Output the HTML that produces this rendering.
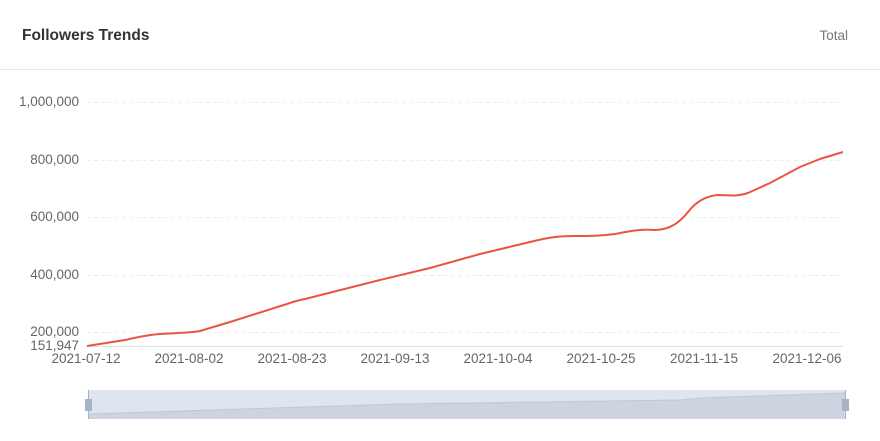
<!DOCTYPE html>
<html><head><meta charset="utf-8"><style>
body{margin:0;width:880px;height:441px;background:#fff;font-family:"Liberation Sans",sans-serif;overflow:hidden}
</style></head><body>
<svg width="880" height="441" xmlns="http://www.w3.org/2000/svg" style="position:absolute;left:0;top:0">
<text x="22" y="40" font-size="15.5" font-weight="bold" fill="#333">Followers Trends</text>
<text x="848" y="40" font-size="13.5" fill="#777" text-anchor="end">Total</text>
<line x1="0" y1="69.5" x2="880" y2="69.5" stroke="#e8e8e8"/>
<g stroke="#eee" stroke-dasharray="4,3">
<line x1="87" y1="102.5" x2="843" y2="102.5"/>
<line x1="87" y1="160.5" x2="843" y2="160.5"/>
<line x1="87" y1="217.5" x2="843" y2="217.5"/>
<line x1="87" y1="275.5" x2="843" y2="275.5"/>
<line x1="87" y1="332.5" x2="843" y2="332.5"/>
</g>
<line x1="87" y1="346.5" x2="843" y2="346.5" stroke="#e0e0e0"/>
<g font-size="13.5" fill="#666" text-anchor="end">
<text x="79" y="106">1,000,000</text>
<text x="79" y="164">800,000</text>
<text x="79" y="221">600,000</text>
<text x="79" y="279">400,000</text>
<text x="79" y="336">200,000</text>
<text x="79" y="350">151,947</text>
</g>
<g font-size="13.5" fill="#666" text-anchor="middle">
<text x="86" y="363">2021-07-12</text>
<text x="189" y="363">2021-08-02</text>
<text x="292" y="363">2021-08-23</text>
<text x="395" y="363">2021-09-13</text>
<text x="498" y="363">2021-10-04</text>
<text x="601" y="363">2021-10-25</text>
<text x="704" y="363">2021-11-15</text>
<text x="807" y="363">2021-12-06</text>
</g>
<path d="M87,346 L125,340 C135,338 145,335 160,334 C175,333 190,333 200,331 C210,328 220,325 230,322 L290,303 C295,301 300,300 305,299 L380,280 L430,268 L480,254 L530,242 C550,237 560,236 575,236 C590,236 600,236 615,234 C630,231 640,229 655,230 C670,230 680,222 688,212 C695,203 705,196 718,195 C730,195 735,197 748,193 L770,183 L800,167 L820,159 L843,152" fill="none" stroke="#ea5443" stroke-width="2"/>
<rect x="88" y="390" width="758" height="29" fill="#dfe5ee"/>
<path d="M88,414 L400,404 L680,400 L700,398 L846,393 L846,419 L88,419 Z" fill="#cdd4df"/>
<path d="M88,414 L400,404 L680,400 L700,398 L846,393" fill="none" stroke="#bfc8d6"/>
<line x1="88.5" y1="390" x2="88.5" y2="419" stroke="#a7b4c8"/>
<line x1="845.5" y1="390" x2="845.5" y2="419" stroke="#a7b4c8"/>
<rect x="85" y="399" width="7" height="12" fill="#a7b4c8"/>
<rect x="842" y="399" width="7" height="12" fill="#a7b4c8"/>
</svg>
</body></html>
